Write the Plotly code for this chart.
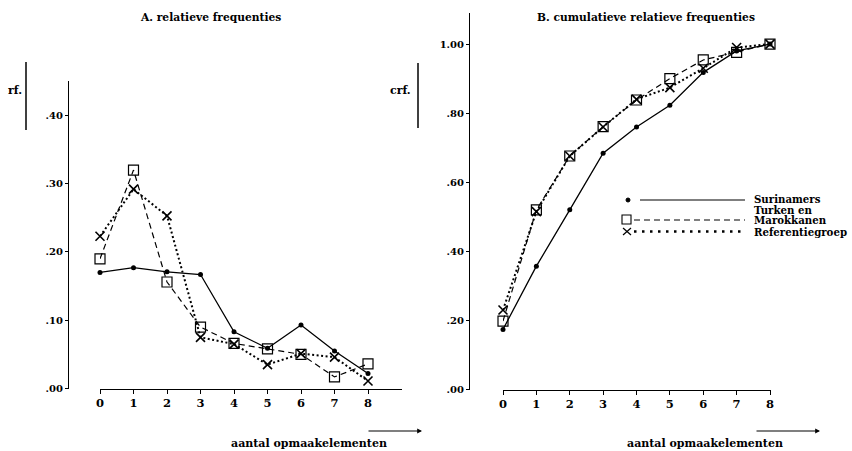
import plotly.graph_objects as go

# ---------------- data ----------------
x_vals = [0, 1, 2, 3, 4, 5, 6, 7, 8]

rf_sur = [0.170, 0.177, 0.171, 0.167, 0.083, 0.059, 0.093, 0.055, 0.022]
rf_tm = [0.190, 0.320, 0.156, 0.090, 0.066, 0.058, 0.050, 0.017, 0.036]
rf_ref = [0.223, 0.292, 0.253, 0.075, 0.065, 0.035, 0.051, 0.046, 0.011]

crf_sur = [0.174, 0.357, 0.520, 0.684, 0.760, 0.823, 0.918, 0.980, 1.000]
crf_tm = [0.198, 0.520, 0.676, 0.761, 0.838, 0.900, 0.954, 0.976, 1.000]
crf_ref = [0.230, 0.515, 0.676, 0.760, 0.840, 0.874, 0.930, 0.990, 1.000]

rf_ticks = [0.0, 0.1, 0.2, 0.3, 0.4]
rf_ticktext = [".00", ".10", ".20", ".30", ".40"]
crf_ticks = [0.0, 0.2, 0.4, 0.6, 0.8, 1.0]
crf_ticktext = [".00", ".20", ".40", ".60", ".80", "1.00"]

series_names = ["Surinamers", "Turken en Marokkanen", "Referentiegroep"]
legend_lines = ["Surinamers", "Turken en", "Marokkanen", "Referentiegroep"]

W, H = 852, 451
FONT = "DejaVu Serif"


def px(x):
    return x / W


def py(y):
    return 1 - y / H


def b(t):
    return "<b>" + t + "</b>"


styles = [
    dict(line=dict(color="black", width=1.3, dash="solid"),
         marker=dict(symbol="circle", size=5, color="black")),
    dict(line=dict(color="black", width=1.2, dash="6px,4px"),
         marker=dict(symbol="square-open", size=10, color="black",
                     line=dict(width=1.2, color="black"))),
    dict(line=dict(color="black", width=2, dash="2px,2.5px"),
         marker=dict(symbol="x-thin", size=9, color="black",
                     line=dict(width=1.6, color="black"))),
]

fig = go.Figure()
for name, ys, st in zip(series_names, [rf_sur, rf_tm, rf_ref], styles):
    fig.add_trace(go.Scatter(x=x_vals, y=ys, mode="lines+markers", name=name,
                             xaxis="x", yaxis="y", cliponaxis=False, **st))
for name, ys, st in zip(series_names, [crf_sur, crf_tm, crf_ref], styles):
    fig.add_trace(go.Scatter(x=x_vals, y=ys, mode="lines+markers", name=name,
                             xaxis="x2", yaxis="y2", cliponaxis=False, **st))

axis_common = dict(showgrid=False, zeroline=False, showline=True,
                   linecolor="black", linewidth=1, ticks="outside",
                   tickcolor="black", tickwidth=1, automargin=False)

fig.update_layout(
    template="none",
    autosize=False,
    width=W, height=H,
    margin=dict(l=0, r=0, t=0, b=0, pad=0),
    paper_bgcolor="white", plot_bgcolor="white",
    showlegend=False,
    font=dict(family=FONT, color="black", size=11),
    xaxis=dict(domain=[px(100), px(402)], range=[0, 9.015], anchor="y",
               tickvals=x_vals, ticktext=[b(str(v)) for v in x_vals],
               ticklen=4, tickfont=dict(size=11.5), **axis_common),
    yaxis=dict(domain=[py(388.5), py(81)], range=[0, 0.4505], anchor="free",
               position=px(68), tickvals=rf_ticks,
               ticktext=[b(t) for t in rf_ticktext],
               ticklen=3, tickfont=dict(size=10), **axis_common),
    xaxis2=dict(domain=[px(503), px(771)], range=[0, 8.03], anchor="y2",
                tickvals=x_vals, ticktext=[b(str(v)) for v in x_vals],
                ticklen=4, tickfont=dict(size=11.5), **axis_common),
    yaxis2=dict(domain=[py(389.5), py(13)], range=[0, 1.0899], anchor="free",
                position=px(469), tickvals=crf_ticks,
                ticktext=[b(t) for t in crf_ticktext],
                ticklen=3, tickfont=dict(size=10), **axis_common),
)

ann = []


def text(t, x, y, size=11, xanchor="center"):
    ann.append(dict(text=b(t), x=px(x), y=py(y), xref="paper", yref="paper",
                    showarrow=False, xanchor=xanchor, yanchor="middle",
                    borderpad=0,
                    font=dict(size=size, family=FONT, color="black")))


text("A. relatieve frequenties", 210, 17, 10.7)
text("B. cumulatieve relatieve frequenties", 646, 17, 10.7)
text("rf.", 15, 90, 11)
text("crf.", 400, 90, 11)
text("aantal opmaakelementen", 309, 443, 11)
text("aantal opmaakelementen", 705, 443, 11)

# legend texts
for t, yy in zip(legend_lines, [199, 209.5, 220, 231.5]):
    text(t, 753, yy, 10.2, "left")

# arrows under the x axes
for x0, x1 in [(367, 422), (755, 820)]:
    ann.append(dict(x=px(x1), y=py(431), xref="paper", yref="paper",
                    ax=x0 - x1, ay=0, axref="pixel", ayref="pixel",
                    showarrow=True, arrowhead=2, arrowsize=0.8,
                    arrowwidth=1.2, arrowcolor="black", text=""))

fig.update_layout(annotations=ann)

shapes = []
# vertical bars next to rf. / crf.
shapes.append(dict(type="line", xref="paper", yref="paper",
                   x0=px(26), x1=px(26), y0=py(62), y1=py(130),
                   line=dict(color="black", width=1.5)))
shapes.append(dict(type="line", xref="paper", yref="paper",
                   x0=px(418), x1=px(418), y0=py(63), y1=py(128),
                   line=dict(color="black", width=1.5)))

# legend samples
shapes.append(dict(type="line", xref="paper", yref="paper",
                   x0=px(640), x1=px(745), y0=py(200), y1=py(200),
                   line=dict(color="black", width=1.2)))
shapes.append(dict(type="circle", xref="paper", yref="paper",
                   x0=px(626), x1=px(630), y0=py(202), y1=py(198),
                   fillcolor="black", line=dict(color="black", width=1)))
shapes.append(dict(type="line", xref="paper", yref="paper",
                   x0=px(634), x1=px(745), y0=py(220), y1=py(220),
                   line=dict(color="black", width=1.2, dash="6px,4px")))
shapes.append(dict(type="rect", xref="paper", yref="paper",
                   x0=px(622), x1=px(631), y0=py(224), y1=py(215),
                   line=dict(color="black", width=1.1)))
shapes.append(dict(type="line", xref="paper", yref="paper",
                   x0=px(634), x1=px(745), y0=py(231.5), y1=py(231.5),
                   line=dict(color="black", width=2.6, dash="2.5px,5.5px")))
shapes.append(dict(type="line", xref="paper", yref="paper",
                   x0=px(623), x1=px(631), y0=py(228), y1=py(235),
                   line=dict(color="black", width=1.2)))
shapes.append(dict(type="line", xref="paper", yref="paper",
                   x0=px(623), x1=px(631), y0=py(235), y1=py(228),
                   line=dict(color="black", width=1.2)))
fig.update_layout(shapes=shapes)

fig.write_html(
    "out.html",
    config={"displayModeBar": False, "responsive": False},
    post_script="document.body.style.margin='0';"
                "document.body.style.overflow='hidden';",
)
